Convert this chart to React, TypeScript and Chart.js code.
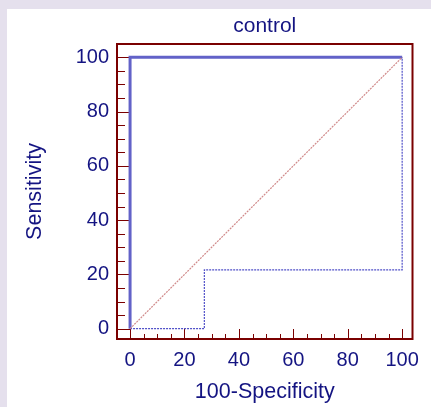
import React, { useEffect, useRef } from "react";
import { Chart, registerables } from "chart.js";

Chart.register(...registerables);

const chartTitle = "control";
const xTitle = "100-Specificity";
const yTitle = "Sensitivity";
const tickValues = [0, 20, 40, 60, 80, 100];
const minorStep = 5;

// ROC curve
const rocX = [0, 0, 100];
const rocY = [0, 100, 100];
// lower confidence bound
const lowerX = [0, 27.3, 27.3, 100, 100];
const lowerY = [0, 0, 21.7, 21.7, 100];
// reference diagonal
const diagX = [0, 100];
const diagY = [0, 100];

const NAVY = "#141482";
const MAROON = "#7a0000";
const FONT = "'Liberation Sans', Arial, sans-serif";

const pts = (xs: number[], ys: number[]) => xs.map((x, i) => ({ x, y: ys[i] }));

const framePlugin = {
  id: "framePlugin",
  beforeDatasetsDraw(chart: any) {
    const { ctx, chartArea, scales } = chart;
    const xs = scales.x;
    const ys = scales.y;
    ctx.save();
    ctx.strokeStyle = MAROON;
    ctx.lineWidth = 1;
    for (let v = 0; v <= 100; v += minorStep) {
      const major = v % 20 === 0;
      const px = Math.round(xs.getPixelForValue(v)) + 0.5;
      ctx.beginPath();
      ctx.moveTo(px, chartArea.bottom);
      ctx.lineTo(px, chartArea.bottom - (major ? 10 : 5));
      ctx.stroke();
      const py = Math.round(ys.getPixelForValue(v)) + 0.5;
      ctx.beginPath();
      ctx.moveTo(chartArea.left, py);
      ctx.lineTo(chartArea.left + (major ? 13 : 8), py);
      ctx.stroke();
    }
    ctx.restore();
  },
  afterDraw(chart: any) {
    const { ctx, chartArea } = chart;
    ctx.save();
    ctx.strokeStyle = MAROON;
    ctx.lineWidth = 2;
    ctx.strokeRect(
      chartArea.left,
      chartArea.top,
      chartArea.right - chartArea.left,
      chartArea.bottom - chartArea.top
    );
    ctx.restore();
  },
};

export default function App() {
  const ref = useRef<HTMLCanvasElement>(null);

  useEffect(() => {
    if (!ref.current) return;
    const chart = new Chart(ref.current, {
      type: "scatter",
      data: {
        datasets: [
          {
            data: pts(diagX, diagY),
            showLine: true,
            borderColor: "#d08a8a",
            borderWidth: 1.2,
            borderDash: [2, 1],
            pointRadius: 0,
          },
          {
            data: pts(lowerX, lowerY),
            showLine: true,
            borderColor: "#5050c8",
            borderWidth: 1.2,
            borderDash: [2, 1],
            pointRadius: 0,
          },
          {
            data: pts(rocX, rocY),
            showLine: true,
            borderColor: "#6262c8",
            borderWidth: 3,
            pointRadius: 0,
          },
        ],
      },
      options: {
        responsive: false,
        animation: false,
        devicePixelRatio: 1,
        layout: { padding: { left: 0, right: 18.5, top: 0, bottom: 0 } },
        plugins: {
          legend: { display: false },
          tooltip: { enabled: false },
          title: {
            display: true,
            text: chartTitle,
            fullSize: false,
            color: NAVY,
            font: { family: FONT, size: 21, weight: "normal" },
            padding: { top: 4.4, bottom: 5.4 },
          },
        },
        scales: {
          x: {
            type: "linear",
            min: -4.8,
            max: 103.8,
            grid: { display: false, drawTicks: false },
            border: { display: false },
            afterBuildTicks: (s: any) => {
              s.ticks = tickValues.map((v) => ({ value: v }));
            },
            afterFit: (s: any) => {
              s.height = 68;
            },
            ticks: {
              color: NAVY,
              padding: 9,
              maxRotation: 0,
              font: { family: FONT, size: 20 },
            },
            title: {
              display: true,
              text: xTitle,
              color: NAVY,
              font: { family: FONT, size: 21.5 },
              padding: { top: 0, bottom: 2.2 },
            },
          },
          y: {
            type: "linear",
            min: -3.8,
            max: 104.9,
            grid: { display: false, drawTicks: false },
            border: { display: false },
            afterBuildTicks: (s: any) => {
              s.ticks = tickValues.map((v) => ({ value: v }));
            },
            afterFit: (s: any) => {
              s.width = 110;
            },
            ticks: {
              color: NAVY,
              padding: 8,
              font: { family: FONT, size: 20 },
            },
            title: {
              display: true,
              text: yTitle,
              color: NAVY,
              font: { family: FONT, size: 21.5 },
              padding: { top: 15.2, bottom: 0 },
            },
          },
        },
      },
      plugins: [framePlugin],
    } as any);
    return () => chart.destroy();
  }, []);

  return (
    <div
      style={{
        position: "fixed",
        left: 0,
        top: 0,
        width: 431,
        height: 407,
        background: "#e5e0ed",
        overflow: "hidden",
      }}
    >
      <div
        style={{
          position: "absolute",
          left: 7,
          top: 9,
          width: 424,
          height: 398,
          background: "#ffffff",
        }}
      >
        <canvas ref={ref} width={424} height={398} style={{ display: "block", width: 424, height: 398 }} />
      </div>
    </div>
  );
}
